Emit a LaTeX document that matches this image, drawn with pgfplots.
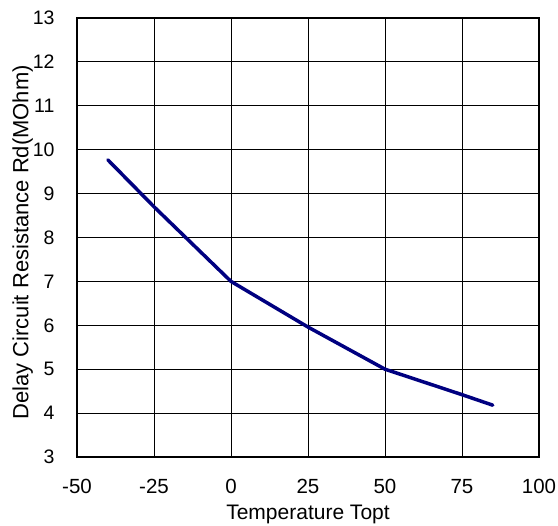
\documentclass[border=0pt]{standalone}
\usepackage{pgfplots}
\pgfplotsset{compat=1.18}
\usepackage{fontspec}
\setmainfont{Liberation Sans}
\definecolor{navyline}{RGB}{0,0,128}
\begin{document}
\begin{tikzpicture}
\useasboundingbox (-77bp,-69bp) rectangle (481bp,457bp);
\begin{axis}[
  at={(0,0)}, anchor=south west,
  scale only axis,
  width=462bp, height=439bp,
  xmin=-50, xmax=100, ymin=3, ymax=13,
  xtick={-50,-25,0,25,50,75,100},
  ytick={3,4,5,6,7,8,9,10,11,12,13},
  grid=major,
  major grid style={black, line width=0.8bp},
  axis line style={black, line width=1.5bp},
  major tick length=0pt,
  /pgf/number format/assume math mode=true,
  xticklabel style={font=\fontsize{20.5bp}{22bp}\selectfont, yshift=-19bp},
  yticklabel style={font=\fontsize{19.5bp}{22bp}\selectfont, xshift=-19bp},
  xlabel={Temperature Topt},
  ylabel={Delay Circuit Resistance Rd(MOhm)},
  xlabel style={font=\fontsize{21bp}{23bp}\selectfont, at={(axis description cs:0.5,0)}, anchor=base, yshift=-62bp},
  ylabel style={font=\fontsize{22bp}{24bp}\selectfont, at={(axis description cs:-0.1054,0.489)}, anchor=base, rotate=0},
]
\addplot[navyline, line width=3.5bp, line join=round, line cap=round] coordinates {
  (-40,9.77) (-25,8.70) (0,7.00) (25,5.96) (50,5.00) (75,4.42) (85,4.18)
};
\end{axis}
\end{tikzpicture}
\end{document}
